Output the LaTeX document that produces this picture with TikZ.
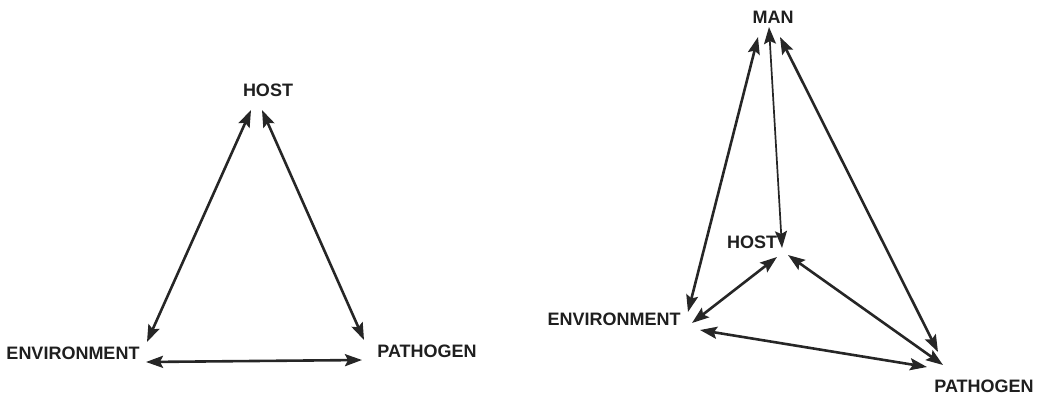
\documentclass[tikz,border=0pt]{standalone}
\usepackage{fontspec}
\setmainfont{Liberation Sans}
\usepackage{tikz}
\usetikzlibrary{arrows.meta}
\tikzset{
	link/.style={<->, >={Stealth[length=17pt,width=12pt,inset=3pt]}, line width=2.6pt, draw=black!85},
	thinlink/.style={link, line width=1.7pt},
	label/.style={font=\fontsize{18}{20}\selectfont\bfseries, text=black!88, inner sep=0pt},
}

\begin{document}
\begin{tikzpicture}[x=1pt, y=-1pt]
	\useasboundingbox (0,0) rectangle (1037,394);
	% first triangle
	\node[label] (hostL) at (268,90) {HOST};
	\node[label] (envL)  at (73,353) {ENVIRONMENT};
	\node[label] (pathL) at (427,351) {PATHOGEN};

	\draw[link] ([shift={(-17,20)}]hostL.center) -- ([shift={(74,-11)}]envL.center);
	\draw[link] ([shift={(-6,20)}]hostL.center)  -- ([shift={(-63,-11)}]pathL.center);
	\draw[link] ([shift={(73,9)}]envL.center)    -- ([shift={(-65,9)}]pathL.center);

	% second picture, with man on top
	\node[label] (man)   at (773,17)  {MAN};
	\node[label] (hostR) at (752,242) {HOST};
	\node[label] (envR)  at (614,319) {ENVIRONMENT};
	\node[label] (pathR) at (984,386) {PATHOGEN};

	\draw[link]     ([shift={(-15,20)}]man.center)  -- ([shift={(74,-7)}]envR.center);
	\draw[thinlink] ([shift={(-4,10)}]man.center)   -- ([shift={(30,6)}]hostR.center);
	\draw[link]     ([shift={(7,20)}]man.center)    -- ([shift={(-46,-34)}]pathR.center);
	\draw[link]     ([shift={(25,15)}]hostR.center) -- ([shift={(78,4)}]envR.center);
	\draw[link]     ([shift={(36,13)}]hostR.center) -- ([shift={(-41,-21)}]pathR.center);
	\draw[link]     ([shift={(86,11)}]envR.center)  -- ([shift={(-57,-19)}]pathR.center);
\end{tikzpicture}
\end{document}
